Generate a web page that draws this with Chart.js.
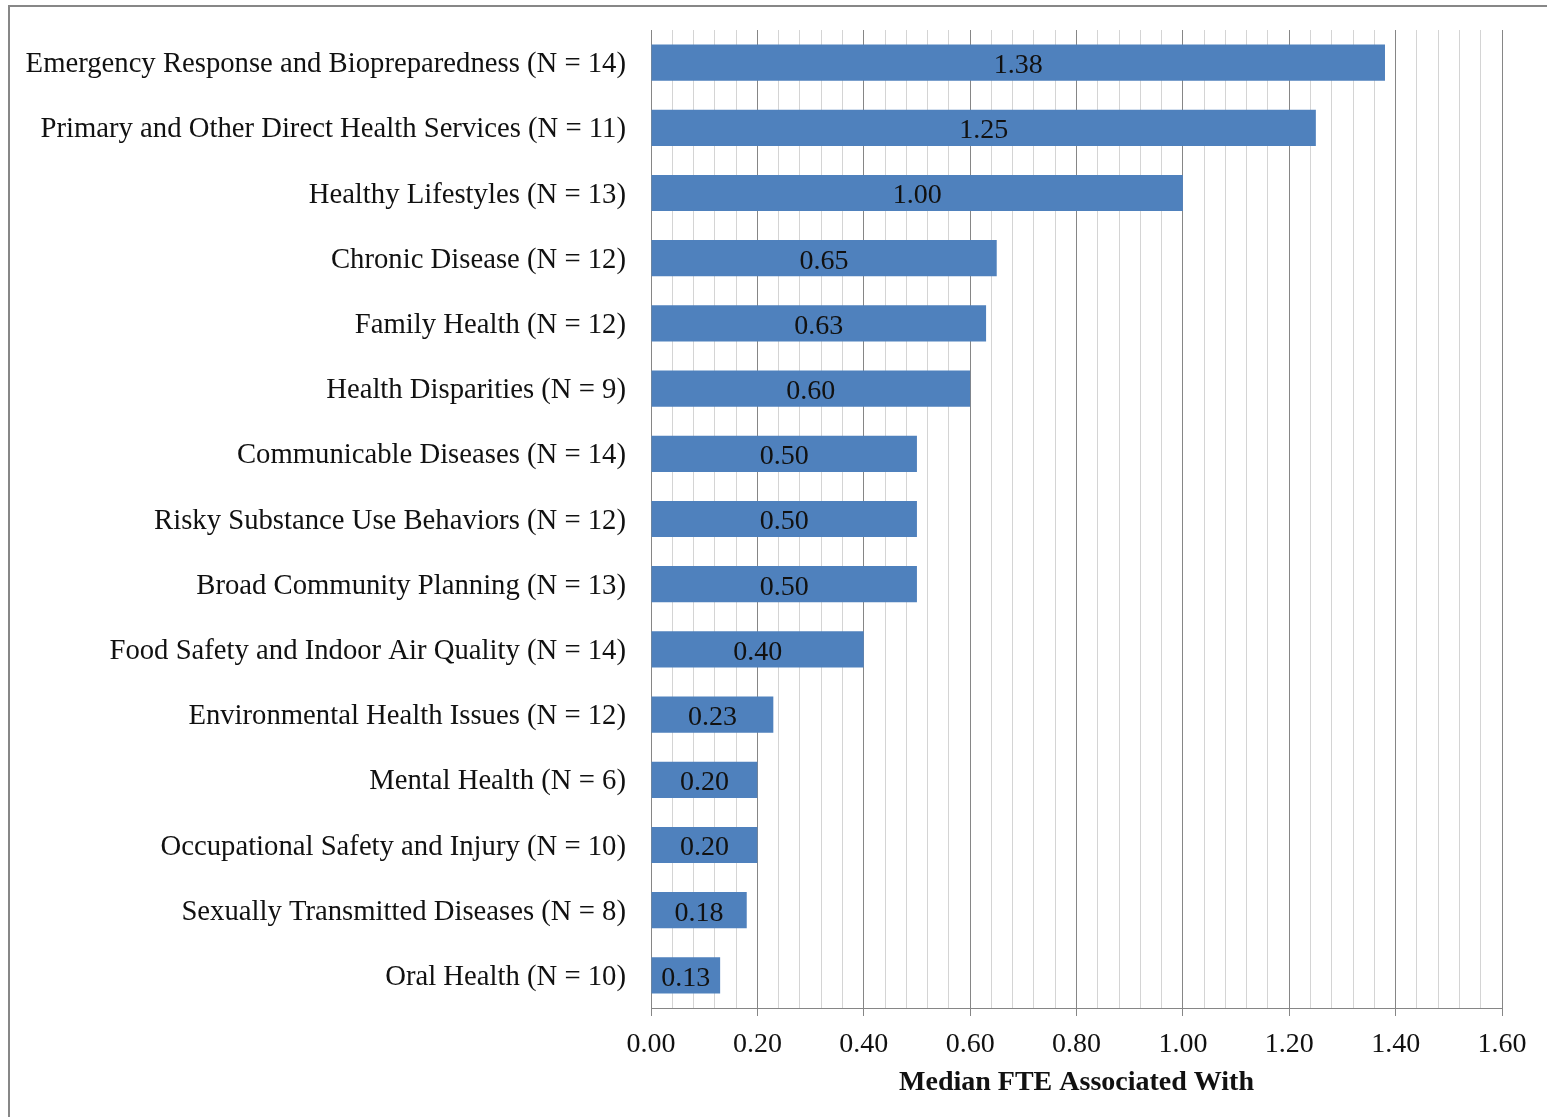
<!DOCTYPE html>
<html>
<head>
<meta charset="utf-8">
<title>Median FTE by program area</title>
<script src="https://cdn.jsdelivr.net/npm/chart.js@4"></script>
<style>
  html, body { margin: 0; padding: 0; background: #fff; overflow: hidden; }
  #frame {
    position: absolute; left: 8px; top: 5px; width: 2000px; height: 2000px;
    border-left: 2px solid #878787; border-top: 2px solid #878787;
  }
  #wrap { position: absolute; left: 0; top: 0; width: 1547px; height: 1117px; }
</style>
</head>
<body>
<div id="frame"></div>
<div id="wrap"><canvas id="chart"></canvas></div>
<script>
// ── Data ────────────────────────────────────────────────────────────────
const CATEGORIES = [
  "Emergency Response and Biopreparedness",
  "Primary and Other Direct Health Services",
  "Healthy Lifestyles",
  "Chronic Disease",
  "Family Health",
  "Health Disparities",
  "Communicable Diseases",
  "Risky Substance Use Behaviors",
  "Broad Community Planning",
  "Food Safety and Indoor Air Quality",
  "Environmental Health Issues",
  "Mental Health",
  "Occupational Safety and Injury",
  "Sexually Transmitted Diseases",
  "Oral Health"
];
const N_COUNTS = [14, 11, 13, 12, 12, 9, 14, 12, 13, 14, 12, 6, 10, 8, 10];
const MEDIAN_FTE = [1.38, 1.25, 1.00, 0.65, 0.63, 0.60, 0.50, 0.50, 0.50, 0.40, 0.23, 0.20, 0.20, 0.18, 0.13];

const TICK_VALUES = [0, 0.2, 0.4, 0.6, 0.8, 1.0, 1.2, 1.4, 1.6];
const TICK_LABELS = ["0.00", "0.20", "0.40", "0.60", "0.80", "1.00", "1.20", "1.40", "1.60"];
const X_TITLE = "Median FTE Associated With";

// ── Style ───────────────────────────────────────────────────────────────
const BAR     = "#4F81BD";
const MAJOR   = "#868686";
const MINOR   = "#D4D4D4";
const INK     = "#111111";
const FONT    = "'Liberation Serif', 'Times New Roman', serif";

const labels = CATEGORIES.map((c, i) => `${c} (N = ${N_COUNTS[i]})`);

function tickLabel(v) {
  const i = TICK_VALUES.findIndex(t => Math.abs(t - v) < 1e-6);
  return i >= 0 ? TICK_LABELS[i] : "";
}
function isMajor(v) {
  return TICK_VALUES.some(t => Math.abs(t - v) < 1e-6);
}

// value printed in the middle of each bar
const barValues = {
  id: "barValues",
  afterDatasetsDraw(chart) {
    const { ctx } = chart;
    const meta = chart.getDatasetMeta(0);
    ctx.save();
    ctx.font = `28px ${FONT}`;
    ctx.fillStyle = INK;
    ctx.textAlign = "center";
    ctx.textBaseline = "middle";
    meta.data.forEach((bar, i) => {
      ctx.fillText(MEDIAN_FTE[i].toFixed(2), (bar.x + bar.base) / 2, bar.y + 3);
    });
    ctx.restore();
  }
};

new Chart(document.getElementById("chart"), {
  type: "bar",
  data: {
    labels,
    datasets: [{
      data: MEDIAN_FTE,
      backgroundColor: BAR,
      borderWidth: 0,
      categoryPercentage: 1,
      barPercentage: 0.555,
    }],
  },
  options: {
    indexAxis: "y",
    responsive: true,
    maintainAspectRatio: false,
    animation: false,
    layout: { padding: { top: 30, right: 45, bottom: 0, left: 0 } },
    plugins: {
      legend: { display: false },
      tooltip: { enabled: false },
    },
    scales: {
      x: {
        min: 0,
        max: 1.6,
        afterFit: (s) => { s.height = 109; },
        grid: {
          color: (c) => isMajor(c.tick.value) ? MAJOR : MINOR,
          tickColor: (c) => isMajor(c.tick.value) ? MAJOR : "rgba(0,0,0,0)",
          tickLength: 8,
          lineWidth: 1,
        },
        border: { display: true, color: MAJOR, width: 1 },
        ticks: {
          stepSize: 0.04,
          maxTicksLimit: 100,
          autoSkip: false,
          maxRotation: 0,
          padding: 12,
          color: INK,
          font: { family: FONT, size: 28 },
          callback: (v) => tickLabel(v),
        },
        title: {
          display: true,
          text: X_TITLE,
          color: INK,
          font: { family: FONT, size: 28, weight: "bold" },
          padding: { top: 0, bottom: 17 },
        },
      },
      y: {
        // fixed axis width so the plot starts at the same x; no extra label padding
        afterFit: (s) => {
          s.width = 651;
          s.paddingTop = 0;
          s.paddingBottom = 0;
        },
        grid: { display: false, drawTicks: false },
        border: { display: true, color: MAJOR, width: 1 },
        ticks: {
          padding: 25,
          labelOffset: 2,
          color: INK,
          font: { family: FONT, size: 28.7 },
        },
      },
    },
  },
  plugins: [barValues],
});
</script>
</body>
</html>
